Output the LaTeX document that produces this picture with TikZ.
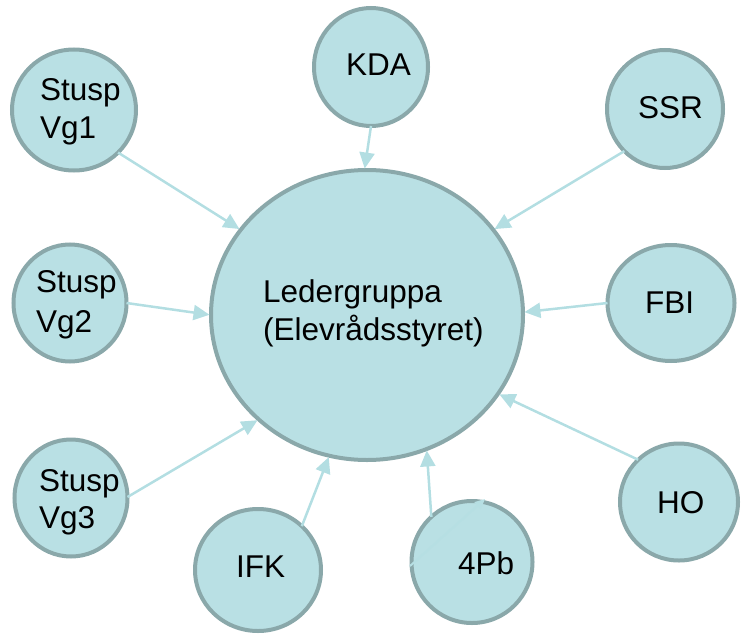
\documentclass[tikz,border=0pt]{standalone}
\usepackage{fontspec}
\setmainfont{Liberation Sans}
\usetikzlibrary{shapes.geometric,arrows.meta}
\definecolor{bubblefill}{HTML}{B9E0E4}
\definecolor{bubbleline}{HTML}{8AA8AA}
\definecolor{linkcol}{HTML}{B3DEE2}
\begin{document}
\begin{tikzpicture}[x=1pt,y=-1pt,
  bubble/.style={ellipse, draw=bubbleline, fill=bubblefill, line width=4pt, inner sep=0pt, outer sep=0pt},
  lbl/.style={anchor=base west, align=left, inner sep=0pt, font=\fontsize{31.5}{38}\selectfont},
  link/.style={draw=linkcol, line width=2.5pt, -{Triangle[length=16pt,width=15pt]}, shorten >=1.5pt},
  faint/.style={draw=linkcol!45!bubblefill, line width=2pt, -{Triangle[length=10pt,width=9pt]}}]
\useasboundingbox (0,0) rectangle (741,634);
% central
\node[bubble, minimum width=312pt, minimum height=290pt] (lg) at (367,315) {};
% satellites
\node[bubble, minimum width=114pt, minimum height=118pt] (kda) at (371,67) {};
\node[bubble, minimum width=116pt, minimum height=118pt] (ssr) at (665,109) {};
\node[bubble, minimum width=127pt, minimum height=116pt] (fbi) at (671,303) {};
\node[bubble, minimum width=118pt, minimum height=117pt] (ho) at (679,502) {};
\node[bubble, minimum width=121pt, minimum height=122pt] (pb) at (472,562) {};
\node[bubble, minimum width=126pt, minimum height=122pt] (ifk) at (258,570) {};
\node[bubble, minimum width=113pt, minimum height=117pt] (vg3) at (71,498) {};
\node[bubble, minimum width=113pt, minimum height=117pt] (vg2) at (70,303) {};
\node[bubble, minimum width=124pt, minimum height=121pt] (vg1) at (74,110) {};
% texts (base anchor = baseline of the last line)
\node[lbl] (lgt) at (263,340) {Ledergruppa\\(Elevrådsstyret)};
\node[lbl] (kdat) at (346,75) {KDA};
\node[lbl] (ssrt) at (638,118) {SSR};
\node[lbl] (fbit) at (645,313) {FBI};
\node[lbl] (hot) at (657,513) {HO};
\node[lbl] (pbt) at (458,574) {4Pb};
\node[lbl] (ifkt) at (236,577) {IFK};
\node[lbl, font=\fontsize{31.5}{37}\selectfont] (vg3t) at (39,528) {Stusp\\Vg3};
\node[lbl, font=\fontsize{31.5}{40}\selectfont] (vg2t) at (36,332) {Stusp\\Vg2};
\node[lbl] (vg1t) at (40,138) {Stusp\\Vg1};
% connectors
\draw[link] (kda.-90) -- (lg.91);
\draw[link] (ssr.-134) -- (lg.34);
\draw[link] (fbi.180) -- (lg.1);
\draw[link] (ho.134) -- (lg.-31);
\draw[link] (pb.132) -- (lg.-66);
\draw[link] (ifk.45) -- (lg.-105);
\draw[link] (vg3.1) -- (lg.-136);
\draw[link] (vg2.0) -- (lg.180);
\draw[link] (vg1.-44) -- (lg.146);
% faint line inside 4Pb
\coordinate (fa) at (410,566);
\coordinate (fb) at (485,499);
\draw[faint] (fa) -- (fb);
\end{tikzpicture}
\end{document}
